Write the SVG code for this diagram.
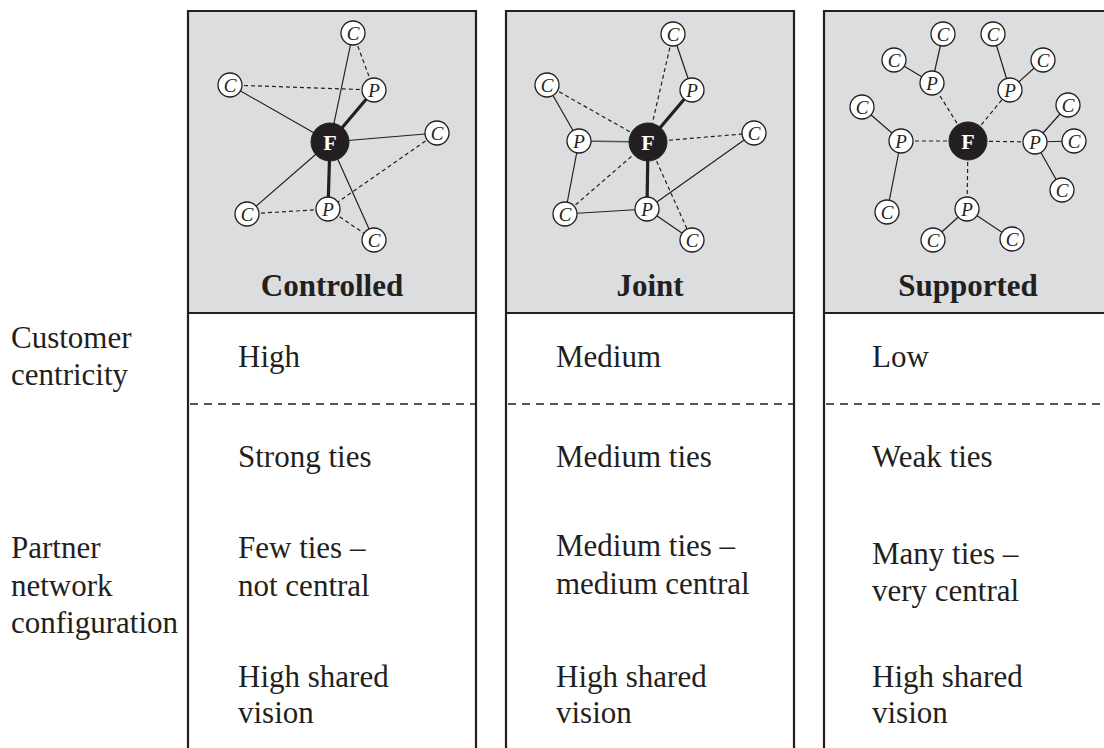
<svg xmlns="http://www.w3.org/2000/svg" width="1104" height="748" viewBox="0 0 1104 748">
<style>
.panel{fill:#dcdddf;stroke:none}
.border{stroke:#231f20;stroke-width:2.2;fill:none}
.sep{stroke:#231f20;stroke-width:1.4;stroke-dasharray:8 6;fill:none}
.s{stroke:#231f20;stroke-width:1.2;fill:none}
.d{stroke:#231f20;stroke-width:1.2;stroke-dasharray:4 3;fill:none}
.t{stroke:#231f20;stroke-width:3.2;fill:none}
.m{stroke:#555;stroke-width:1.6;fill:none}
.cn{fill:#fff;stroke:#231f20;stroke-width:1.3}
.fn{fill:#231f20;stroke:#231f20;stroke-width:1}
.cl{font-family:"Liberation Serif",serif;font-style:italic;font-size:19px;fill:#231f20;text-anchor:middle}
.fl{font-family:"Liberation Serif",serif;font-weight:bold;font-size:22px;fill:#fff;text-anchor:middle}
.title{font-family:"Liberation Serif",serif;font-weight:bold;font-size:31px;fill:#231f20;text-anchor:middle}
.body{font-family:"Liberation Serif",serif;font-size:31px;fill:#231f20}
</style>
<defs>
<g id="C"><circle r="12" class="cn"/><text y="6.5" class="cl">C</text></g>
<g id="P"><circle r="12" class="cn"/><text y="6.5" class="cl">P</text></g>
<g id="F"><circle r="19" class="fn"/><text y="8" class="fl">F</text></g>
</defs>

<!-- panels -->
<g id="panels">
<rect class="panel" x="188" y="11" width="288" height="302"/>
<rect class="panel" x="506" y="11" width="288" height="302"/>
<rect class="panel" x="824" y="11" width="290" height="302"/>
</g>
<g id="frame">
<path class="border" d="M188,748 V11 H476 V748 M188,313 H476"/>
<path class="border" d="M506,748 V11 H794 V748 M506,313 H794"/>
<path class="border" d="M824,748 V11 H1110 M824,313 H1110"/>
<path class="sep" d="M190,404 H475 M508,404 H793 M826,404 H1104"/>
</g>

<!-- connectors -->
<g id="connectors">
<!-- Controlled -->
<line class="s" x1="353" y1="33" x2="330" y2="142"/>
<line class="d" x1="353" y1="33" x2="374" y2="90"/>
<line class="d" x1="230" y1="85" x2="374" y2="90"/>
<line class="s" x1="230" y1="85" x2="330" y2="142"/>
<line class="t" x1="374" y1="90" x2="330" y2="142"/>
<line class="s" x1="330" y1="142" x2="437" y2="133"/>
<line class="d" x1="437" y1="133" x2="328" y2="209"/>
<line class="s" x1="330" y1="142" x2="247" y2="214"/>
<line class="t" x1="330" y1="142" x2="328" y2="209"/>
<line class="d" x1="247" y1="214" x2="328" y2="209"/>
<line class="d" x1="328" y1="209" x2="374" y2="240"/>
<line class="s" x1="330" y1="142" x2="374" y2="240"/>
<!-- Joint -->
<line class="s" x1="673" y1="34" x2="692" y2="90"/>
<line class="d" x1="673" y1="34" x2="648" y2="142"/>
<line class="t" x1="692" y1="90" x2="648" y2="142"/>
<line class="s" x1="547" y1="85" x2="579" y2="141"/>
<line class="d" x1="547" y1="85" x2="648" y2="142"/>
<line class="m" x1="579" y1="141" x2="648" y2="142"/>
<line class="d" x1="648" y1="142" x2="754" y2="133"/>
<line class="s" x1="579" y1="141" x2="565" y2="214"/>
<line class="d" x1="565" y1="214" x2="648" y2="142"/>
<line class="s" x1="565" y1="214" x2="647" y2="209"/>
<line class="t" x1="648" y1="142" x2="647" y2="209"/>
<line class="s" x1="647" y1="209" x2="754" y2="133"/>
<line class="s" x1="647" y1="209" x2="692" y2="240"/>
<line class="d" x1="648" y1="142" x2="692" y2="240"/>
<!-- Supported -->
<line class="d" x1="968" y1="141" x2="932" y2="83"/>
<line class="d" x1="968" y1="141" x2="1010" y2="90"/>
<line class="d" x1="968" y1="141" x2="901" y2="141"/>
<line class="d" x1="968" y1="141" x2="1035" y2="142"/>
<line class="d" x1="968" y1="141" x2="967" y2="209"/>
<line class="s" x1="932" y1="83" x2="943" y2="34"/>
<line class="s" x1="932" y1="83" x2="894" y2="60"/>
<line class="s" x1="1010" y1="90" x2="993" y2="34"/>
<line class="s" x1="1010" y1="90" x2="1043" y2="60"/>
<line class="s" x1="901" y1="141" x2="862" y2="107"/>
<line class="s" x1="901" y1="141" x2="887" y2="212"/>
<line class="s" x1="1035" y1="142" x2="1068" y2="105"/>
<line class="s" x1="1035" y1="142" x2="1074" y2="141"/>
<line class="s" x1="1035" y1="142" x2="1062" y2="190"/>
<line class="s" x1="967" y1="209" x2="933" y2="240"/>
<line class="s" x1="967" y1="209" x2="1012" y2="239"/>
</g>

<!-- Controlled nodes -->
<g id="controlled">
<use href="#C" x="353" y="33"/>
<use href="#C" x="230" y="85"/>
<use href="#P" x="374" y="90"/>
<use href="#F" x="330" y="142"/>
<use href="#C" x="437" y="133"/>
<use href="#C" x="247" y="214"/>
<use href="#P" x="328" y="209"/>
<use href="#C" x="374" y="240"/>
<text class="title" x="332" y="296">Controlled</text>
</g>

<!-- Joint nodes -->
<g id="joint">
<use href="#C" x="673" y="34"/>
<use href="#P" x="692" y="90"/>
<use href="#C" x="547" y="85"/>
<use href="#P" x="579" y="141"/>
<use href="#F" x="648" y="142"/>
<use href="#C" x="754" y="133"/>
<use href="#C" x="565" y="214"/>
<use href="#P" x="647" y="209"/>
<use href="#C" x="692" y="240"/>
<text class="title" x="650" y="296">Joint</text>
</g>

<!-- Supported nodes -->
<g id="supported">
<use href="#F" x="968" y="141"/>
<use href="#P" x="932" y="83"/>
<use href="#C" x="943" y="34"/>
<use href="#C" x="894" y="60"/>
<use href="#P" x="1010" y="90"/>
<use href="#C" x="993" y="34"/>
<use href="#C" x="1043" y="60"/>
<use href="#P" x="901" y="141"/>
<use href="#C" x="862" y="107"/>
<use href="#C" x="887" y="212"/>
<use href="#P" x="1035" y="142"/>
<use href="#C" x="1068" y="105"/>
<use href="#C" x="1074" y="141"/>
<use href="#C" x="1062" y="190"/>
<use href="#P" x="967" y="209"/>
<use href="#C" x="933" y="240"/>
<use href="#C" x="1012" y="239"/>
<text class="title" x="968" y="296">Supported</text>
</g>

<!-- row labels -->
<g id="row-labels" class="body">
<text x="11" y="348">Customer</text>
<text x="11" y="385">centricity</text>
<text x="11" y="558">Partner</text>
<text x="11" y="596">network</text>
<text x="11" y="633">configuration</text>
</g>

<!-- cells -->
<g id="col-controlled" class="body">
<text x="238" y="367">High</text>
<text x="238" y="467">Strong ties</text>
<text x="238" y="558">Few ties –</text>
<text x="238" y="596">not central</text>
<text x="238" y="687">High shared</text>
<text x="238" y="723">vision</text>
</g>
<g id="col-joint" class="body">
<text x="556" y="367">Medium</text>
<text x="556" y="467">Medium ties</text>
<text x="556" y="556">Medium ties –</text>
<text x="556" y="594">medium central</text>
<text x="556" y="687">High shared</text>
<text x="556" y="723">vision</text>
</g>
<g id="col-supported" class="body">
<text x="872" y="367">Low</text>
<text x="872" y="467">Weak ties</text>
<text x="872" y="564">Many ties –</text>
<text x="872" y="601">very central</text>
<text x="872" y="687">High shared</text>
<text x="872" y="723">vision</text>
</g>
</svg>
